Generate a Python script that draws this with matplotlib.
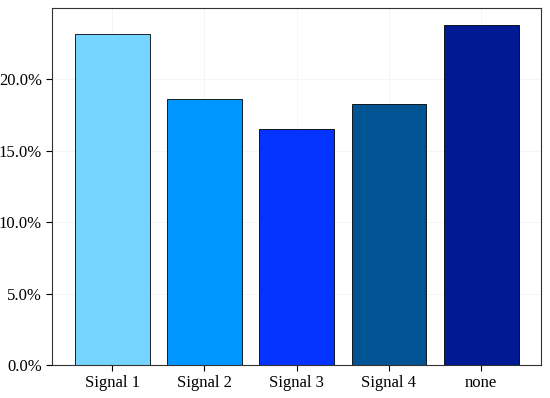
import matplotlib.pyplot as plt
from matplotlib.ticker import PercentFormatter

categories = ["Signal 1", "Signal 2", "Signal 3", "Signal 4", "none"]
shares = [23.2, 18.6, 16.5, 18.25, 23.8]
colors = ["#75D5FF", "#0096FF", "#0433FF", "#005493", "#011993"]

plt.rcParams["font.family"] = ["Liberation Serif", "DejaVu Serif"]

fig, ax = plt.subplots(figsize=(5.5, 3.98), dpi=100)
fig.subplots_adjust(left=0.095, right=0.984, top=0.98, bottom=0.083)

x = range(len(categories))
ax.bar(x, shares, width=0.81, color=colors, edgecolor="black", linewidth=0.6)

ax.set_xlim(-0.65, 4.65)
ax.set_ylim(0, 25)
ax.set_yticks([0, 5, 10, 15, 20])
ax.yaxis.set_major_formatter(PercentFormatter(decimals=1))
ax.set_xticks(list(x))
ax.set_xticklabels(categories)
ax.tick_params(labelsize=12, length=4, width=0.8)
ax.grid(color="#f4f4f4", linewidth=0.6)
ax.set_axisbelow(True)
for s in ax.spines.values():
    s.set_linewidth(0.8)
    s.set_color("#333333")

fig.savefig("out.png")
